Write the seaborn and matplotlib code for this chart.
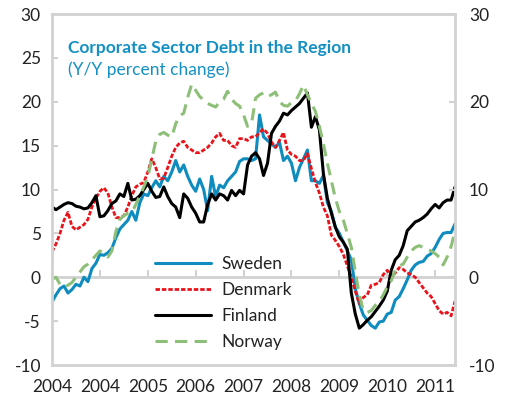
import pandas as pd
import matplotlib
matplotlib.use("Agg")
import matplotlib.pyplot as plt
import seaborn as sns

# Monthly Y/Y percent change
sweden = [-2.8, -2.0, -1.3, -1.0, -1.8, -1.4, -0.8, -1.0, 0.0, -0.5,
          1.0, 1.6, 2.6, 2.5, 2.8, 3.3, 4.5, 5.5, 6.0, 6.5,
          7.5, 6.5, 8.5, 9.5, 9.3, 10.2, 11.0, 10.3, 11.5, 11.0,
          12.0, 13.3, 12.0, 12.8, 11.5, 10.5, 9.8, 11.2, 10.0, 7.6,
          11.5, 9.2, 10.5, 10.2, 11.0, 11.5, 12.0, 13.2, 13.5, 13.5,
          13.3, 13.5, 18.5, 16.0, 15.6, 15.2, 14.8, 15.4, 13.3, 13.8,
          13.0, 11.0, 12.5, 13.5, 14.5, 11.0, 11.0, 10.7, 11.6, 8.5,
          7.5, 5.7, 5.0, 4.0, 3.0, 2.0, -1.3, -3.0, -4.3, -4.9,
          -5.5, -5.8, -5.1, -5.0, -4.2, -4.0, -2.6, -2.2, -1.3, -0.3,
          0.8, 1.4, 1.7, 1.8, 2.4, 2.7, 3.4, 4.3, 5.0, 5.1,
          5.1, 6.1]
denmark = [2.9, 3.8, 5.0, 6.5, 7.4, 5.8, 5.4, 5.7, 6.0, 6.6,
           8.0, 9.0, 9.8, 10.2, 9.6, 8.0, 6.8, 6.8, 7.0, 8.0,
           9.3, 10.3, 10.6, 10.8, 12.0, 13.5, 12.5, 11.2, 11.3, 12.5,
           13.8, 14.8, 15.3, 15.5, 14.8, 14.5, 14.2, 14.2, 14.5, 14.8,
           15.3, 16.0, 16.4, 15.6, 15.6, 15.0, 14.8, 15.8, 15.8, 15.6,
           16.0, 16.0, 16.5, 16.9, 16.4, 15.4, 14.8, 15.6, 16.5, 14.5,
           14.0, 13.8, 13.3, 13.3, 14.1, 12.4, 10.8, 9.6, 8.0, 7.0,
           4.8, 4.2, 3.5, 2.6, 1.3, 0.0, -1.6, -3.0, -2.3, -2.0,
           -0.9, -0.8, -0.6, 0.3, 0.8, 0.0, 0.5, 1.1, 0.9, 0.5,
           0.3, 0.0, -0.6, -1.2, -1.8, -2.2, -3.0, -3.8, -4.2, -4.0,
           -4.4, -2.7]
finland = [8.0, 7.7, 8.0, 8.3, 8.5, 8.4, 8.1, 8.0, 7.8, 7.9,
           8.5, 9.3, 6.9, 7.0, 7.6, 8.4, 8.7, 9.5, 9.2, 10.7,
           8.8, 8.9, 9.3, 10.0, 10.7, 9.8, 9.1, 9.2, 10.3, 9.2,
           8.4, 8.0, 6.8, 9.5, 9.0, 8.0, 7.3, 6.3, 6.3, 8.3,
           9.5, 8.8, 9.5, 9.3, 8.8, 9.9, 9.3, 9.9, 9.5, 12.8,
           13.8, 14.2, 13.5, 11.6, 13.0, 16.4, 17.2, 17.8, 18.7, 18.5,
           19.0, 19.4, 19.8, 20.4, 21.0, 17.1, 18.3, 16.8, 11.8, 9.0,
           7.3, 5.7, 4.6, 4.0, 3.2, -1.8, -4.2, -5.8, -5.4, -4.9,
           -4.5, -3.9, -3.3, -2.6, -1.6, 0.8, 2.0, 2.5, 3.6, 5.3,
           5.8, 6.3, 6.5, 6.8, 7.2, 7.8, 8.3, 7.9, 8.5, 8.8,
           8.8, 10.3]
norway = [-0.2, 0.0, -0.8, -1.1, -0.9, -0.6, 0.0, 0.6, 1.2, 1.5,
          2.0, 2.5, 3.0, 2.7, 2.3, 3.0, 5.2, 6.6, 7.0, 7.3,
          7.4, 8.3, 9.3, 10.3, 11.4, 13.5, 15.5, 16.3, 16.5, 16.2,
          16.0, 17.5, 18.4, 18.7, 20.5, 22.0, 21.3, 20.6, 20.2, 19.8,
          19.6, 19.4, 20.0, 20.3, 21.2, 20.3, 19.8, 19.5, 18.5, 17.2,
          17.5, 20.4, 20.8, 21.0, 20.6, 20.8, 21.1, 20.0, 19.6, 19.5,
          19.9, 20.1, 20.9, 21.9, 20.8, 19.8, 18.9, 17.2, 15.2, 13.0,
          11.0, 9.0, 7.5, 6.5, 5.0, 3.4, 0.6, -2.0, -3.8, -4.0,
          -3.8, -3.2, -2.8, -2.0, -1.1, -0.4, 0.8, 1.3, 1.5, 2.3,
          3.0, 3.4, 3.6, 3.4, 3.2, 3.0, 2.7, 2.3, 1.4, 2.3,
          3.5, 5.3]

tick_labels = ["2004", "2004", "2005", "2006", "2007", "2008", "2009", "2010", "2011"]

df = pd.DataFrame({"Sweden": sweden, "Denmark": denmark,
                   "Finland": finland, "Norway": norway})
df["month"] = range(len(df))

sns.set_style("white")
plt.rcParams["font.family"] = ["Lato", "DejaVu Sans"]
plt.rcParams["axes.unicode_minus"] = False

grey = "#D2D2D2"
txt = "#222222"
fig = plt.figure(figsize=(5.07, 4.04), dpi=100)
ax = fig.add_axes([0.1026, 0.0965, 0.795, 0.8688])

styles = {
    "Sweden": dict(color="#0E8BBF", lw=2.2),
    "Denmark": dict(color="#E8141B", lw=2.0, dashes=(1.6, 0.7)),
    "Finland": dict(color="black", lw=2.2),
    "Norway": dict(color="#8DBF78", lw=2.2, dashes=(4.0, 2.4)),
}
for name, st in styles.items():
    sns.lineplot(x="month", y=name, data=df, ax=ax, label=name,
                 color=st["color"], linewidth=st["lw"])
    if "dashes" in st:
        ax.lines[-1].set_dashes(st["dashes"])

ax.set_xlim(0, len(df) - 1)
ax.set_ylim(-10, 30)
ax.set_xlabel("")
ax.set_ylabel("")
ax.set_yticks(range(-10, 31, 5))
ax.set_xticks(range(0, len(df), 12))
ax.set_xticklabels(tick_labels)
ax.tick_params(axis="x", length=0, labelsize=12.5, pad=10, colors=txt)
ax.tick_params(axis="y", direction="in", length=4, width=1.5, color=grey,
               labelsize=12.5, pad=8, labelcolor=txt)
for sp in ax.spines.values():
    sp.set_color(grey)
    sp.set_linewidth(2)

# zero line with the category ticks
zero = ax.secondary_xaxis(0.25)
zero.set_xticks(range(0, len(df), 12))
zero.tick_params(axis="x", direction="in", length=5, width=1.5, color=grey,
                 labelbottom=False)
zero.spines["bottom"].set_color(grey)
zero.spines["bottom"].set_linewidth(2)

ax2 = ax.twinx()
ax2.set_ylim(-10, 30)
ax2.set_yticks(range(-10, 31, 10))
ax2.tick_params(axis="y", direction="in", length=4, width=1.5, color=grey,
                labelsize=12.5, pad=10, labelcolor=txt)
for sp in ax2.spines.values():
    sp.set_visible(False)

ax.text(0.04, 0.89, "Corporate Sector Debt in the Region", transform=ax.transAxes,
        color="#1390C4", fontsize=12.5, fontweight="bold")
ax.text(0.04, 0.825, "(Y/Y percent change)", transform=ax.transAxes,
        color="#1390C4", fontsize=12.5)

leg = ax.legend(loc="upper left", bbox_to_anchor=(0.235, 0.335), frameon=False,
                fontsize=12.5, handlelength=3.2, labelspacing=0.58,
                handletextpad=0.6, borderpad=0)
for t in leg.get_texts():
    t.set_color(txt)

fig.savefig("out.png", dpi=100)
